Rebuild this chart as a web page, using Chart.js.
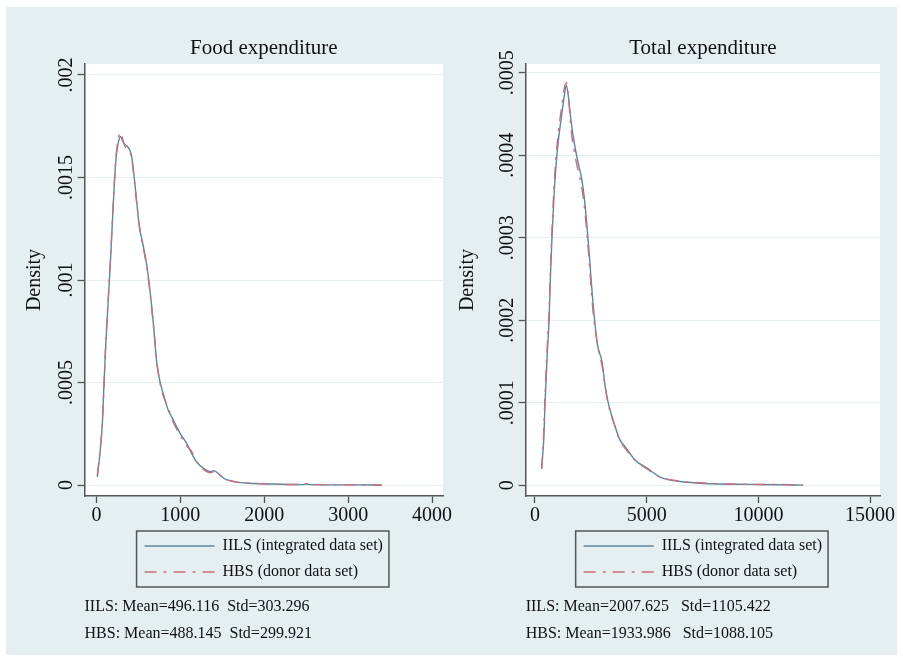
<!DOCTYPE html>
<html><head><meta charset="utf-8">
<script src="https://cdn.jsdelivr.net/npm/chart.js@4.4.1/dist/chart.umd.min.js"></script>
<style>
html,body{margin:0;padding:0;background:#fff;width:903px;height:662px;overflow:hidden}
#bg{position:absolute;left:6px;top:7px;width:891px;height:648px;background:#e5eff0}
#w1{position:absolute;left:0;top:0;width:470px;height:662px}
#w2{position:absolute;left:451px;top:0;width:452px;height:662px}
canvas{display:block}
</style></head><body>
<div id="bg"></div>
<div id="w1"><canvas id="c1" width="470" height="662"></canvas></div>
<div id="w2"><canvas id="c2" width="452" height="662"></canvas></div>
<script>
// ---------- data ----------
const seriesNames = ['IILS (integrated data set)', 'HBS (donor data set)'];
const panelTitles = ['Food expenditure', 'Total expenditure'];
const yAxisTitle = 'Density';

const xFood = [10, 40, 70, 90, 110, 140, 170, 200, 230, 260, 285, 310, 340, 370, 400, 420, 450, 480, 510, 540, 570, 600, 640, 680, 720, 760, 800, 860, 900, 960, 1000, 1080, 1140, 1200, 1280, 1360, 1400, 1440, 1520, 1600, 1680, 1800, 1950, 2100, 2300, 2450, 2500, 2560, 2800, 3100, 3400];
const iilsFood = [0.00004, 0.00015, 0.0003, 0.0005, 0.00068, 0.0009, 0.00112, 0.00137, 0.00158, 0.00167, 0.0017, 0.00168, 0.00166, 0.00165, 0.00163, 0.0016, 0.0015, 0.00138, 0.00126, 0.0012, 0.00114, 0.00107, 0.00094, 0.00078, 0.00059, 0.0005, 0.00044, 0.00036, 0.00033, 0.00028, 0.00025, 0.0002, 0.00015, 0.00011, 0.00008, 0.000065, 0.00007, 0.00006, 0.000032, 0.00002, 0.000013, 0.000009, 0.000006, 0.000005, 0.000003, 0.000002, 0.000005, 0.000002, 0.000001, 0.000001, 0];
const hbsFood = [0.00005, 0.00016, 0.00031, 0.00049, 0.00069, 0.00091, 0.00113, 0.00138, 0.00159, 0.00169, 0.00172, 0.00169, 0.00165, 0.00164, 0.00162, 0.00159, 0.00149, 0.00137, 0.00127, 0.00119, 0.00113, 0.00106, 0.00093, 0.00077, 0.0006, 0.00049, 0.00043, 0.00037, 0.00032, 0.00027, 0.00024, 0.00019, 0.00016, 0.00011, 0.000075, 0.00006, 0.000065, 0.000055, 0.000034, 0.000021, 0.000014, 0.00001, 0.000007, 0.000004, 0.000003, 0.000003, 0.000007, 0.000002, 0.000002, 0.000001, 0];

const xTotal = [300, 400, 450, 550, 630, 700, 760, 870, 980, 1100, 1200, 1300, 1400, 1500, 1620, 1790, 1940, 2100, 2240, 2400, 2600, 2800, 3000, 3140, 3280, 3600, 3800, 4000, 4500, 5000, 5600, 6500, 7400, 8000, 9000, 10000, 11000, 12000];
const iilsTotal = [0.00002, 0.00006, 0.0001, 0.00016, 0.0002, 0.00026, 0.0003, 0.00036, 0.0004, 0.00043, 0.00045, 0.00047, 0.000485, 0.00047, 0.00044, 0.00041, 0.00039, 0.00037, 0.00034, 0.00029, 0.00022, 0.00017, 0.00015, 0.00012, 0.0001, 0.00007, 0.000055, 0.000048, 0.00003, 0.000021, 0.00001, 0.0000045, 0.0000025, 0.0000018, 0.0000012, 0.000001, 0.0000007, 0.0000002];
const hbsTotal = [0.00002, 0.00007, 0.00011, 0.00017, 0.00021, 0.00027, 0.00031, 0.00037, 0.00041, 0.00044, 0.00046, 0.00048, 0.000488, 0.00047, 0.00043, 0.0004, 0.00038, 0.00036, 0.00033, 0.00028, 0.00021, 0.00017, 0.000145, 0.00012, 0.000098, 0.00007, 0.000054, 0.000046, 0.00003, 0.00002, 0.00001, 0.000005, 0.000003, 0.000002, 0.0000014, 0.000001, 0.0000009, 0.0000002];

const xTicksFood = [0, 1000, 2000, 3000, 4000];
const xTicksTotal = [0, 5000, 10000, 15000];
const yTicksFood = [0, 0.0005, 0.001, 0.0015, 0.002];
const yTickLabelsFood = ['0', '.0005', '.001', '.0015', '.002'];
const yTicksTotal = [0, 0.0001, 0.0002, 0.0003, 0.0004, 0.0005];
const yTickLabelsTotal = ['0', '.0001', '.0002', '.0003', '.0004', '.0005'];

const statsFood = ['IILS: Mean=496.116  Std=303.296', 'HBS: Mean=488.145  Std=299.921'];
const statsTotal = ['IILS: Mean=2007.625   Std=1105.422', 'HBS: Mean=1933.986   Std=1088.105'];

// ---------- style ----------
const FONT = "'Liberation Serif','Times New Roman',serif";
const TXT = '#111111';
const AXIS = '#555555';
const GRID = '#e6eff0';
const COL_IILS = '#5b879f';
const COL_HBS = '#c8707b';
const DASH_HBS = [12, 7, 3, 7];

Chart.defaults.font.family = FONT;
Chart.defaults.color = TXT;

const plotBg = {
  id: 'plotBg',
  beforeDraw(chart) {
    const {ctx, chartArea: a} = chart;
    ctx.save();
    ctx.fillStyle = '#ffffff';
    ctx.fillRect(a.left, a.top, a.right - a.left, a.bottom - a.top);
    ctx.restore();
  }
};
const legendFrame = {
  id: 'legendFrame',
  afterLayout(chart) {
    const lg = chart.legend;
    if (!lg || !lg.lineWidths) return;
    const m = Math.max(...lg.lineWidths);
    lg.lineWidths = lg.lineWidths.map(() => m);
  },
  afterDraw(chart) {
    const lg = chart.legend;
    const hb = lg && lg.legendHitBoxes;
    if (!hb || !hb.length) return;
    const left = Math.min(...hb.map(h => h.left)) - 8;
    const right = Math.max(...hb.map(h => h.left + h.width)) + 6;
    const top = Math.min(...hb.map(h => h.top)) - 7;
    const bottom = Math.max(...hb.map(h => h.top + h.height)) + 7;
    const ctx = chart.ctx;
    ctx.save();
    ctx.strokeStyle = AXIS;
    ctx.lineWidth = 1.5;
    ctx.strokeRect(left, top, right - left, bottom - top);
    ctx.restore();
  }
};

function legendLabels(chart) {
  const items = Chart.defaults.plugins.legend.labels.generateLabels(chart);
  return items.map(it => {
    const ds = chart.data.datasets[it.datasetIndex];
    it.lineDash = ds.borderDash || [];
    it.strokeStyle = ds.borderColor;
    it.lineWidth = ds.borderWidth;
    return it;
  });
}

function makePanel(id, p) {
  const toPts = (xs, ys) => xs.map((x, i) => ({x: x, y: ys[i]}));
  return new Chart(document.getElementById(id), {
    type: 'line',
    data: {
      datasets: [
        {label: seriesNames[0], data: toPts(p.x, p.a), borderColor: COL_IILS, borderWidth: 1.4,
         pointRadius: 0, cubicInterpolationMode: 'monotone', fill: false, order: 1},
        {label: seriesNames[1], data: toPts(p.x, p.b), borderColor: COL_HBS, borderWidth: 1.4,
         borderDash: DASH_HBS, pointRadius: 0, cubicInterpolationMode: 'monotone', fill: false, order: 0}
      ]
    },
    options: {
      responsive: false,
      animation: false,
      events: [],
      layout: {padding: p.pad},
      scales: {
        x: {
          type: 'linear', min: p.xmin, max: p.xmax,
          afterBuildTicks: s => { s.ticks = p.xt.map(v => ({value: v})); },
          ticks: {callback: v => String(v), autoSkip: false, minRotation: 0, maxRotation: 0,
                  padding: 0.5, color: TXT, font: {size: 20}},
          grid: {drawOnChartArea: false, drawTicks: true, tickLength: 7, tickColor: AXIS, tickWidth: 1.3},
          border: {display: true, color: AXIS, width: 1.5}
        },
        y: {
          type: 'linear', min: p.ymin, max: p.ymax,
          afterBuildTicks: s => { s.ticks = p.yt.map(v => ({value: v})); },
          afterFit: s => { s.width = p.yw; },
          ticks: {callback: (v, i) => p.yl[i], autoSkip: false, minRotation: 90, maxRotation: 90,
                  crossAlign: 'center', padding: -12, color: TXT, font: {size: 20}},
          grid: {color: GRID, lineWidth: 1, drawTicks: true, tickLength: 7, tickColor: AXIS, tickWidth: 1.3},
          border: {display: true, color: AXIS, width: 1.5},
          title: {display: true, text: yAxisTitle, color: TXT, font: {size: 20}, padding: {top: p.tp, bottom: 0}}
        }
      },
      plugins: {
        tooltip: {enabled: false},
        title: {display: true, text: p.title, fullSize: false, color: TXT,
                font: {size: 21, weight: 'normal', lineHeight: 1.2}, padding: {top: 35.4, bottom: 3.4}},
        legend: {display: true, position: 'bottom', fullSize: false, align: 'center',
                 labels: {usePointStyle: true, pointStyle: 'line', pointStyleWidth: 70, padding: 10,
                          color: TXT, font: {size: 16}, generateLabels: legendLabels,
                          sort: (a, b) => a.datasetIndex - b.datasetIndex}},
        subtitle: {display: true, position: 'bottom', align: 'start', fullSize: false, text: p.stats,
                   color: TXT, font: {size: 16, weight: 'normal', lineHeight: 27 / 16}, padding: {top: 3, bottom: 0}}
      }
    },
    plugins: [plotBg, legendFrame]
  });
}

makePanel('c1', {
  title: panelTitles[0], x: xFood, a: iilsFood, b: hbsFood,
  xmin: -143, xmax: 4131, ymin: -0.0000534, ymax: 0.0020534,
  xt: xTicksFood, yt: yTicksFood, yl: yTickLabelsFood, stats: statsFood,
  pad: {left: 10, right: 27, top: 0, bottom: 15}, yw: 74.5, tp: 13
});
makePanel('c2', {
  title: panelTitles[1], x: xTotal, a: iilsTotal, b: hbsTotal,
  xmin: -416, xmax: 15443, ymin: -0.000013, ymax: 0.0005107,
  xt: xTicksTotal, yt: yTicksTotal, yl: yTickLabelsTotal, stats: statsTotal,
  pad: {left: 0, right: 23, top: 0, bottom: 15}, yw: 74.7, tp: 5
});
</script>
</body></html>
